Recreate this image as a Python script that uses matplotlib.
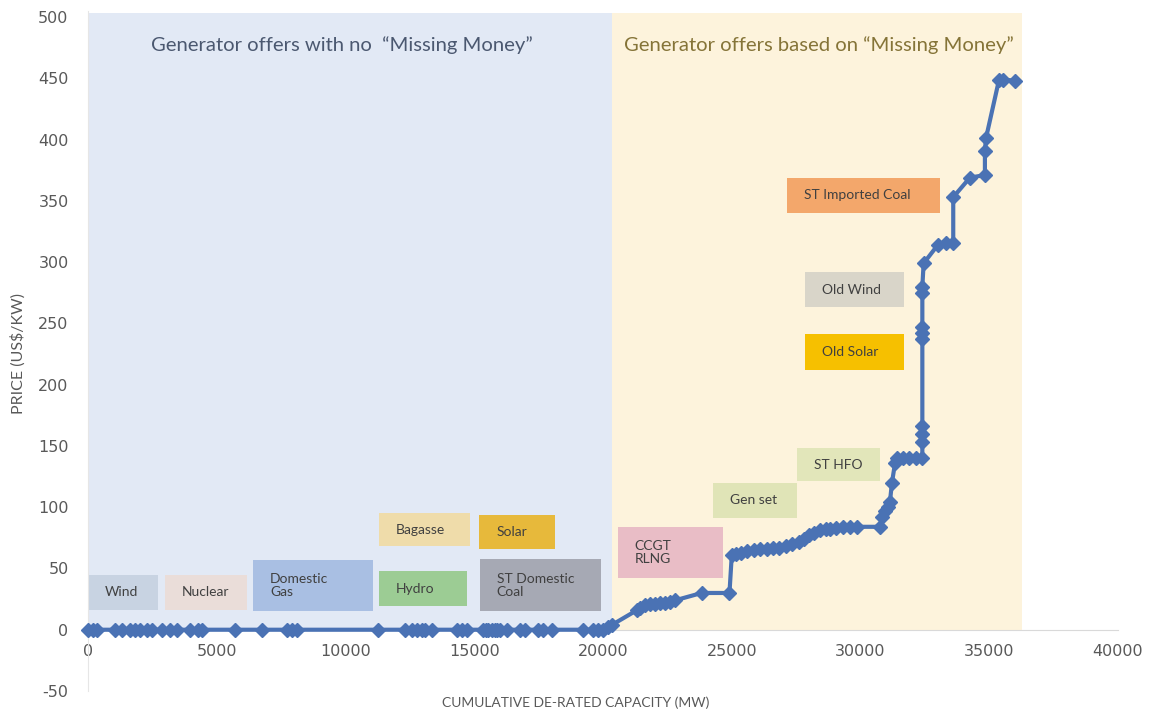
import matplotlib.pyplot as plt
from matplotlib.patches import Rectangle

plt.rcParams['axes.unicode_minus'] = False

# offer curve: cumulative de-rated capacity (MW) vs offer price (US$/kW)
capacity = [0, 200, 350, 1050, 1320, 1630, 1830, 2020, 2290, 2490, 2870, 3180,
            3460, 3960, 4270, 4430, 5710, 6760, 7730, 7920, 8120, 11260, 12310,
            12580, 12780, 12970, 13090, 13360, 14330, 14520, 14720, 15340, 15450,
            15530, 15690, 15810, 15900, 16000, 16270, 16780, 16970, 17480, 17670,
            18020, 19220, 19610, 19810, 20000, 20190, 20350,
            21320, 21440, 21630, 21830, 22020, 22210, 22410, 22600, 22800, 23830,
            24910, 25000, 25150, 25350, 25600, 25850, 26100, 26350, 26600, 26850,
            27100, 27350, 27600, 27800, 28000, 28200, 28430, 28650, 28820, 29050,
            29320, 29600, 29860, 30760, 30830, 30950, 31060, 31140, 31220, 31340,
            31420, 31650, 31900, 32150, 32400, 32400, 32400, 32400, 32400, 32400,
            32400, 32400, 32400, 32450, 33000, 33300, 33600, 33600, 34250, 34830,
            34830, 34870, 35380, 35550, 36000]
price = [0] * 47 + [0, 2, 4,
         16, 18, 20, 21, 21, 22, 22, 23, 24, 30,
         30, 61, 62, 63, 64, 65, 66, 66, 67, 67,
         68, 70, 72, 74, 77, 79, 81, 82, 82, 83,
         84, 84, 84, 84, 92, 97, 100, 104, 120, 136,
         140, 140, 140, 140, 140, 153, 160, 166, 237, 242,
         247, 275, 280, 299, 314, 316, 316, 353, 369, 371,
         391, 401, 449, 449, 448]

regions = ['Generator offers with no  \u201cMissing Money\u201d',
           'Generator offers based on \u201cMissing Money\u201d']
region_span = [(0, 20350), (20350, 36280)]
region_title_x = [9860, 28390]
region_fill = ['#e2e9f5', '#fdf3dc']
region_text = ['#4b5870', '#857438']

tech = ['Wind', 'Nuclear', 'Domestic\nGas', 'Hydro', 'Bagasse', 'Solar',
        'ST Domestic\nCoal', 'CCGT\nRLNG', 'Gen set', 'ST HFO',
        'ST Imported Coal', 'Old Wind', 'Old Solar']
tech_box = [(0, 2700, 16, 45), (3000, 6180, 16, 45), (6420, 11060, 15, 57),
            (11300, 14720, 19, 48), (11300, 14850, 68, 95), (15200, 18150, 66, 94),
            (15220, 19930, 15, 58), (20580, 24660, 42, 84), (24270, 27530, 91, 120),
            (27530, 30760, 121, 148), (27140, 33090, 340, 369), (27840, 31690, 263, 292),
            (27840, 31690, 212, 241)]
tech_color = ['#c8d3e2', '#eaddd9', '#a9bfe3', '#9ccc94', '#efdcaa', '#e7b93b',
              '#a6a9b4', '#e9bdc6', '#e0e4b7', '#e2e6ba', '#f3a76b', '#d9d5c9',
              '#f6c000']

fig = plt.figure(figsize=(11.58, 7.18), dpi=100)
ax = fig.add_axes([0.076, 0.0376, 0.8895, 0.9472])
ax.set_xlim(0, 40000)
ax.set_ylim(-50, 505)

for (x0, x1), tx, fc, label, tc in zip(region_span, region_title_x, region_fill,
                                       regions, region_text):
    ax.add_patch(Rectangle((x0, 0), x1 - x0, 503, facecolor=fc, edgecolor='none', zorder=0))
    ax.text(tx, 477, label, ha='center', va='center', color=tc,
            fontsize=14.6, family='Lato')

for label, (x0, x1, y0, y1), fc in zip(tech, tech_box, tech_color):
    ax.add_patch(Rectangle((x0, y0), x1 - x0, y1 - y0, facecolor=fc, edgecolor='none', zorder=1))
    ax.text(x0 + 650, (y0 + y1) / 2, label, ha='left', va='center', color='#404040',
            fontsize=10, family='Lato', linespacing=1.1, zorder=2)

ax.plot(capacity, price, color='#4a72b4', lw=3, marker='D', ms=7,
        zorder=3, clip_on=False)

for side in ['top', 'right']:
    ax.spines[side].set_visible(False)
ax.spines['bottom'].set_position(('data', 0))
ax.spines['bottom'].set_color('#d9d9d9')
ax.spines['left'].set_color('#e6e6e6')
ax.set_xticks(range(0, 40001, 5000))
ax.set_yticks(range(-50, 501, 50))
ax.tick_params(axis='x', length=0, pad=10, labelsize=11.5, labelcolor='#595959')
ax.tick_params(axis='y', length=0, pad=14, labelsize=11.5, labelcolor='#595959')

fig.text(0.497, 0.021, 'CUMULATIVE DE-RATED CAPACITY (MW)', ha='center', va='center',
         color='#595959', fontsize=10, family='Lato')
fig.text(0.016, 0.508, 'PRICE (US$/KW)', ha='center', va='center', rotation=90,
         color='#595959', fontsize=11.5, family='Lato')

fig.savefig('out.png', dpi=100)
